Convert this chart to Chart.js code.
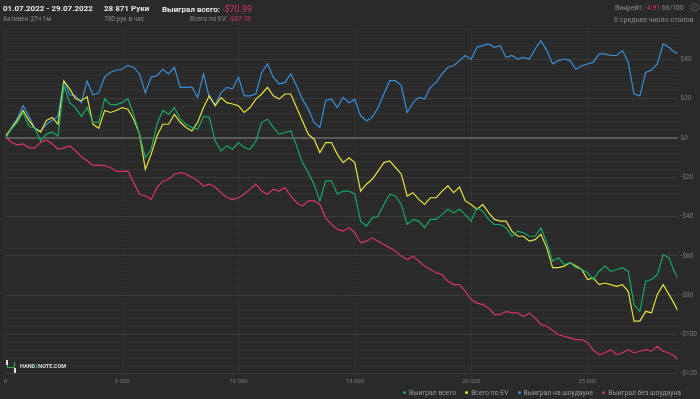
<!DOCTYPE html>
<html>
<head>
<meta charset="utf-8">
<script src="https://cdn.jsdelivr.net/npm/chart.js@4.4.0/dist/chart.umd.min.js"></script>
<style>
  body { margin: 0; background: #2a2a2a; font-family: Roboto, "Noto Sans", sans-serif; }
  #wrap { position: relative; width: 700px; height: 399px; background: #2a2a2a; overflow: hidden; }
  #chart { position: absolute; left: 0; top: 0; }
  .t { position: absolute; white-space: nowrap; }
  .big { font-size: 8px; font-weight: bold; color: #e8e8e8; }
  .small { font-size: 6.5px; color: #8a8a8a; }
  .neg { color: #d6336c; font-weight: normal; }
  .logo { position: absolute; left: 20px; top: 363px; font-size: 5.5px; font-weight: bold; color: #dcdcdc; }
  #legend { position: absolute; right: 19px; top: 389px; font-size: 6.8px; color: #9a9a9a; white-space: nowrap; }
  #legend span.item { margin-left: 9px; }
  #legend span.dot { display: inline-block; width: 3px; height: 3px; border-radius: 50%; margin-right: 3px; vertical-align: 1px; }
</style>
</head>
<body>
<div id="wrap">
  <canvas id="chart" width="700" height="399"></canvas>

  <div class="t big" style="left:3px;top:4px;">01.07.2022 - 29.07.2022</div>
  <div class="t small" style="left:3px;top:15px;">Активен 37ч 1м</div>

  <div class="t big" style="left:104px;top:4px;">28 871 Руки</div>
  <div class="t small" style="left:104px;top:15px;">780 рук в час</div>

  <div class="t big" style="left:162px;top:4px;">Выиграл всего: <span class="neg" style="font-size:9px;">-$70.99</span></div>
  <div class="t small" style="left:190px;top:15px;">Всего по EV: <span class="neg">-$87.78</span></div>

  <div class="t small" style="left:615px;top:4px;font-size:6.8px;">Винрейт: <span class="neg">-4.91</span> 66/100</div>
  <div class="t small" style="left:614px;top:15px;font-size:7.1px;">0 среднее число столов</div>
  <div class="t" style="left:689px;top:0px;font-size:13px;color:#4a4a4a;font-family:'DejaVu Sans';">⚙</div>

  <!-- logo -->
  <div style="position:absolute;left:6px;top:360px;width:2px;height:5px;background:#e0e0e0;"></div>
  <div style="position:absolute;left:14px;top:368px;width:2px;height:5px;background:#e0e0e0;"></div>
  <div style="position:absolute;left:7px;top:365px;width:1px;height:3px;background:#2fae4a;"></div>
  <div style="position:absolute;left:7px;top:367px;width:8px;height:1px;background:#2fae4a;"></div>
  <div style="position:absolute;left:14px;top:362px;width:1px;height:5px;background:#2fae4a;"></div>
  <div class="logo">HAND<span style="color:#2fae4a;">2</span>NOTE.COM</div>

  <div id="legend"></div>
</div>

<script>
// hands on the x axis (one reading every 250 hands, last one is the total)
var HANDS_STEP = 250;
var TOTAL_HANDS = 28871;

var labels = ['Выиграл всего', 'Всего по EV', 'Выиграл на шоудауне', 'Выиграл без шоудауна'];
var colors = ['#16a864', '#e6e23c', '#3a8fd9', '#d6336c'];

// $ values
var wonTotal = [
  0, 4.5, 8, 13, 6, 5, -1.5, 2, 3, 1, 26.5, 18, 15.5, 11, 15.5, 8, 8, 20, 17, 17,
  18, 20, 12, 2, -10, -5.7, 7, 14, 12, 15.5, 9.6, 7, 5.4, 4.5, 11, 10.5, -1.5, -6.5, -4,
  -5.7, -2.3, -4.8, -5.7, -1.5, 8, 9.6, 5.4, 2, 2.8, 3.6, -4, -12.5, -17.6, -23.5, -32, -21.8, -21.8, -28.6, -27,
  -27, -28.6, -42.3, -44.8, -40.6, -39.8, -33.8, -28.6, -29.5, -33.8, -44, -41.4, -42.3, -45.7, -41.4, -41.4, -39, -36.3, -38,
  -36.3, -39, -42.3, -35.5, -37.2, -41.4, -44, -44, -45.7, -50, -47.4, -48.2, -50, -50, -45.7, -53.3, -62.7, -61, -64.4,
  -63.5, -66, -66.9, -68.6, -72, -67.8, -65.2, -67.8, -66.9, -66, -67.8, -84.8, -88.2, -72.9, -72, -69.5, -59.3, -61, -68.6,
  -70.99
];
var evTotal = [
  1, 5, 9, 14, 9, 5, 3, 9, 10.5, 7, 29, 25, 20, 19, 21, 7, 5, 14, 13, 14,
  15.5, 14.7, 9.6, 2, -16, -8.3, 1, 7, 7, 12, 8, 5.4, 3.6, 8, 15.5, 21.5, 16.4, 20.6, 18,
  17.3, 16.4, 13, 15.5, 19.8, 22.4, 25.8, 21.5, 19.8, 22.4, 22.4, 15.5, 8.8, 2, -0.6, -7.4, -2.3, -2.3, -8.3, -12.5,
  -10, -12.5, -27, -23.5, -21, -16.8, -12.5, -11.6, -15, -18.4, -29.5, -27.8, -31.2, -33.8, -30.4, -30.4, -27, -24.4, -27.8,
  -25, -32, -33.8, -36.3, -33.8, -38, -41.4, -42.3, -42.3, -47.4, -50, -50, -52.5, -51.7, -49, -55.9, -66, -66, -65.2,
  -63.5, -65.2, -66.9, -72, -71.2, -74.6, -73.8, -74.6, -75.5, -74.6, -78, -93.2, -93.2, -88.2, -89, -79.6, -74.6, -79.6, -84.8,
  -87.78
];
var wonShowdown = [
  0, 5.3, 10, 16.5, 11, 5, 3.5, 7, 9, 11, 29, 22, 21.5, 18, 29, 22, 23, 31, 33.5, 34.5,
  35, 37, 36, 32.6, 23, 31, 31.7, 35, 32.6, 36, 25.8, 25.8, 26, 20.7, 32.6, 20.7, 17, 23, 25.8,
  25, 31, 21.5, 21.5, 22.4, 33.4, 37.7, 31, 27.5, 28.3, 32.6, 26.6, 19.8, 14.7, 7.9, 5.4, 19, 19.8, 15.5, 20.7,
  18, 19.8, 11.3, 8.8, 10.5, 15.5, 22.4, 29.2, 29.2, 26.6, 13, 18, 20.7, 19.8, 25.8, 28.3, 32.6, 36, 36.8,
  39.4, 42, 40.2, 46.2, 47, 47.9, 46.2, 47, 41, 42, 40.2, 41, 40.2, 45.3, 49.6, 44.5, 37.7, 39.4, 40.2,
  39.4, 35, 36.8, 37.7, 38.6, 42.8, 42.8, 42, 42, 44.5, 38.6, 22.4, 21.5, 33.4, 34.6, 37.7, 47.9, 46.2, 43.6,
  43.1
];
var wonNoShowdown = [
  0.5, -2.3, -3.5, -3, -5, -5, -2.3, -1, -3, -5.7, -5, -4, -6.5, -9.5, -11.6, -14, -13.8, -14, -15, -17,
  -17, -16.8, -22.7, -28.6, -29.5, -31.2, -25.2, -22, -21, -18.4, -17.6, -18.4, -20, -21.8, -24.4, -23.5, -24.9, -27.8, -30.4,
  -31.2, -30.4, -28.6, -26, -23.5, -27, -28.6, -26, -27, -25.2, -29.5, -32.9, -34.6, -32, -32, -33.8, -40.6, -43.9, -46.5, -47.4,
  -45.7, -48.2, -53.3, -52.5, -50.8, -52.5, -54.2, -55.9, -57.6, -60.1, -61.8, -60.1, -62.7, -65.2, -66.9, -68.6, -69.5, -72.9, -74.6,
  -74.6, -78, -82.2, -83.9, -84.8, -86.5, -89.9, -89.9, -88.2, -89, -89, -90.8, -89, -91.6, -95, -95.8, -98, -100, -101,
  -101.7, -102.6, -102.6, -104, -108, -110.2, -109.4, -107.7, -110.2, -109.4, -107.7, -109.4, -108.5, -107.7, -108.5, -106, -108.5, -109.4, -111.1,
  -112.8
];

var xTicks = [0, 5000, 10000, 15000, 20000, 25000];
var yMin = -120, yMax = 56;

function toPoints(values) {
  return values.map(function (v, i) {
    var h = (i === values.length - 1) ? TOTAL_HANDS : i * HANDS_STEP;
    return { x: h, y: v };
  });
}

function money(v) {
  return v < 0 ? '-$' + Math.abs(v) : '$' + v;
}

var series = [wonTotal, evTotal, wonShowdown, wonNoShowdown];
var datasets = series.map(function (vals, i) {
  return {
    label: labels[i],
    data: toPoints(vals),
    borderColor: colors[i],
    backgroundColor: colors[i],
    borderWidth: 1.2,
    pointRadius: 0,
    tension: 0
  };
});

// legend as plain html, bottom right
var legendHtml = '';
labels.forEach(function (l, i) {
  legendHtml += '<span class="item"><span class="dot" style="background:' + colors[i] + '"></span>' + l + '</span>';
});
document.getElementById('legend').innerHTML = legendHtml;

var ctx = document.getElementById('chart').getContext('2d');
var chart = new Chart(ctx, {
  type: 'line',
  data: { datasets: datasets },
  options: {
    responsive: false,
    animation: false,
    layout: { padding: { top: 28, left: 0, right: 0, bottom: 10 } },
    plugins: {
      tooltip: { enabled: false },
      legend: { display: false }
    },
    scales: {
      x: {
        type: 'linear',
        min: 0,
        max: TOTAL_HANDS,
        afterBuildTicks: function (axis) {
          axis.ticks = xTicks.map(function (v) { return { value: v }; });
        },
        grid: { color: '#333333', drawTicks: false },
        border: { display: false },
        ticks: {
          padding: 4,
          color: '#7a7a7a',
          font: { family: 'Roboto', size: 6 },
          maxRotation: 0,
          callback: function (v) { return String(v).replace(/\B(?=(\d{3})+(?!\d))/g, ' '); }
        }
      },
      y: {
        position: 'right',
        min: yMin,
        max: yMax,
        grid: {
          drawTicks: false,
          color: function (c) {
            var v = c.tick.value;
            if (v === 0) return '#595959';
            if (v % 20 === 0) return '#3b3b3b';
            return '#313131';
          },
          lineWidth: function (c) { return c.tick.value === 0 ? 2 : 1; }
        },
        border: { display: false },
        ticks: {
          stepSize: 4,
          autoSkip: false,
          padding: 3,
          color: '#7a7a7a',
          font: { family: 'Roboto', size: 6.5 },
          callback: function (v) { return v % 20 === 0 ? money(v) : ''; }
        }
      }
    }
  }
});
</script>
</body>
</html>
